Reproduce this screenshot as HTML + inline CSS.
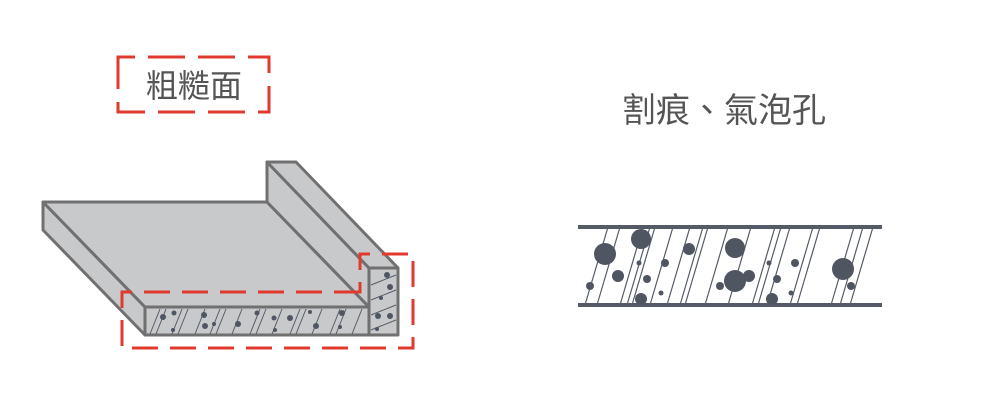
<!DOCTYPE html>
<html><head><meta charset="utf-8"><style>
html,body{margin:0;padding:0;background:#fff;}
svg{display:block}
text{font-family:"Liberation Sans","Noto Sans CJK TC",sans-serif;fill:#555;}
</style></head><body>
<svg width="1000" height="400" viewBox="0 0 1000 400" xmlns="http://www.w3.org/2000/svg">
<rect x="118" y="57" width="151" height="55" fill="none" stroke="#e03a2f" stroke-width="3" stroke-dasharray="37,13" stroke-dashoffset="-30"/>
<text x="194" y="97" font-size="32" text-anchor="middle">粗糙面</text>
<text x="724" y="122" font-size="34" text-anchor="middle">割痕、氣泡孔</text>

<g stroke="#707070" stroke-width="3" stroke-linejoin="round" fill="#c8c9cb">
  <polygon points="43,202 145,307 145,335 43,230"/>
  <polygon points="43,202 267,202 369,307 145,307"/>
  <polygon points="267,162 369,268 369,307 267,202"/>
  <polygon points="267,162 296,162 398,268 369,268"/>
  <rect x="145" y="307" width="224" height="28"/>
  <rect x="369" y="268" width="29" height="67"/>
</g>
<g stroke="#555b66" stroke-width="1">
  <line x1="150" y1="334" x2="160" y2="309"/><line x1="156" y1="334" x2="166" y2="309"/>
  <line x1="172" y1="334" x2="182" y2="309"/><line x1="178" y1="334" x2="188" y2="309"/>
  <line x1="195" y1="334" x2="205" y2="309"/><line x1="210" y1="334" x2="220" y2="309"/>
  <line x1="216" y1="334" x2="226" y2="309"/><line x1="232" y1="334" x2="242" y2="309"/>
  <line x1="250" y1="334" x2="260" y2="309"/><line x1="256" y1="334" x2="266" y2="309"/>
  <line x1="272" y1="334" x2="282" y2="309"/><line x1="290" y1="334" x2="300" y2="309"/>
  <line x1="296" y1="334" x2="306" y2="309"/><line x1="312" y1="334" x2="322" y2="309"/>
  <line x1="330" y1="334" x2="340" y2="309"/><line x1="336" y1="334" x2="346" y2="309"/>
  <line x1="352" y1="334" x2="362" y2="309"/>
  <line x1="371" y1="285" x2="396" y2="275"/><line x1="371" y1="300" x2="396" y2="290"/>
  <line x1="371" y1="315" x2="396" y2="305"/><line x1="371" y1="330" x2="396" y2="320"/>
</g>
<g fill="#4f5561">
  <circle cx="163" cy="317" r="3"/><circle cx="174" cy="313" r="2.5"/><circle cx="173" cy="330" r="2"/>
  <circle cx="204" cy="315" r="3"/><circle cx="205" cy="326" r="3"/><circle cx="214" cy="324" r="2"/>
  <circle cx="238" cy="324" r="3"/><circle cx="257" cy="313" r="2.5"/><circle cx="275" cy="330" r="2"/>
  <circle cx="274" cy="318" r="2.5"/><circle cx="290" cy="318" r="3"/><circle cx="316" cy="326" r="3"/>
  <circle cx="342" cy="313" r="3"/><circle cx="340" cy="327" r="2"/><circle cx="310" cy="312" r="2"/>
  <circle cx="387" cy="275" r="3"/><circle cx="390" cy="287" r="3"/><circle cx="381" cy="298" r="2"/>
  <circle cx="378" cy="316" r="3"/><circle cx="390" cy="316" r="3"/><circle cx="377" cy="329" r="2"/>
</g>
<path d="M360,292 L122,292 L122,348 L413,348 L413,254 L360,254 Z" fill="none" stroke="#e03a2f" stroke-width="3" stroke-dasharray="26,12"/>

<g stroke="#555b66" stroke-width="1.2">
  <line x1="585" y1="305" x2="608" y2="227"/><line x1="597" y1="305" x2="620" y2="227"/>
  <line x1="620" y1="305" x2="643" y2="227"/><line x1="627" y1="305" x2="650" y2="227"/>
  <line x1="632" y1="305" x2="655" y2="227"/><line x1="650" y1="305" x2="673" y2="227"/>
  <line x1="667" y1="305" x2="690" y2="227"/><line x1="680" y1="305" x2="703" y2="227"/>
  <line x1="685" y1="305" x2="708" y2="227"/><line x1="705" y1="305" x2="728" y2="227"/>
  <line x1="728" y1="305" x2="751" y2="227"/><line x1="752" y1="305" x2="775" y2="227"/>
  <line x1="758" y1="305" x2="781" y2="227"/><line x1="767" y1="305" x2="790" y2="227"/>
  <line x1="790" y1="305" x2="813" y2="227"/><line x1="797" y1="305" x2="820" y2="227"/>
  <line x1="831" y1="305" x2="854" y2="227"/><line x1="840" y1="305" x2="863" y2="227"/>
  <line x1="850" y1="305" x2="873" y2="227"/>
</g>
<g stroke="#555b66" stroke-width="4">
  <line x1="578" y1="227" x2="882" y2="227"/>
  <line x1="578" y1="305" x2="882" y2="305"/>
</g>
<g fill="#4f5561">
  <circle cx="605" cy="254" r="11"/><circle cx="641" cy="239" r="10"/><circle cx="618" cy="276" r="6"/>
  <circle cx="590" cy="286" r="4"/><circle cx="639" cy="263" r="2.5"/><circle cx="647" cy="279" r="4"/>
  <circle cx="641" cy="299" r="6"/><circle cx="665" cy="263" r="4"/><circle cx="661" cy="293" r="2.5"/>
  <circle cx="689" cy="249" r="6"/><circle cx="735" cy="248" r="10"/><circle cx="735" cy="281" r="11"/>
  <circle cx="749" cy="276" r="6"/><circle cx="720" cy="286" r="4"/><circle cx="769" cy="263" r="2.5"/>
  <circle cx="795" cy="263" r="4"/><circle cx="777" cy="279" r="4"/><circle cx="791" cy="293" r="2.5"/>
  <circle cx="772" cy="299" r="6"/><circle cx="843" cy="269" r="11"/><circle cx="851" cy="286" r="4"/>
</g>
</svg>
</body></html>
